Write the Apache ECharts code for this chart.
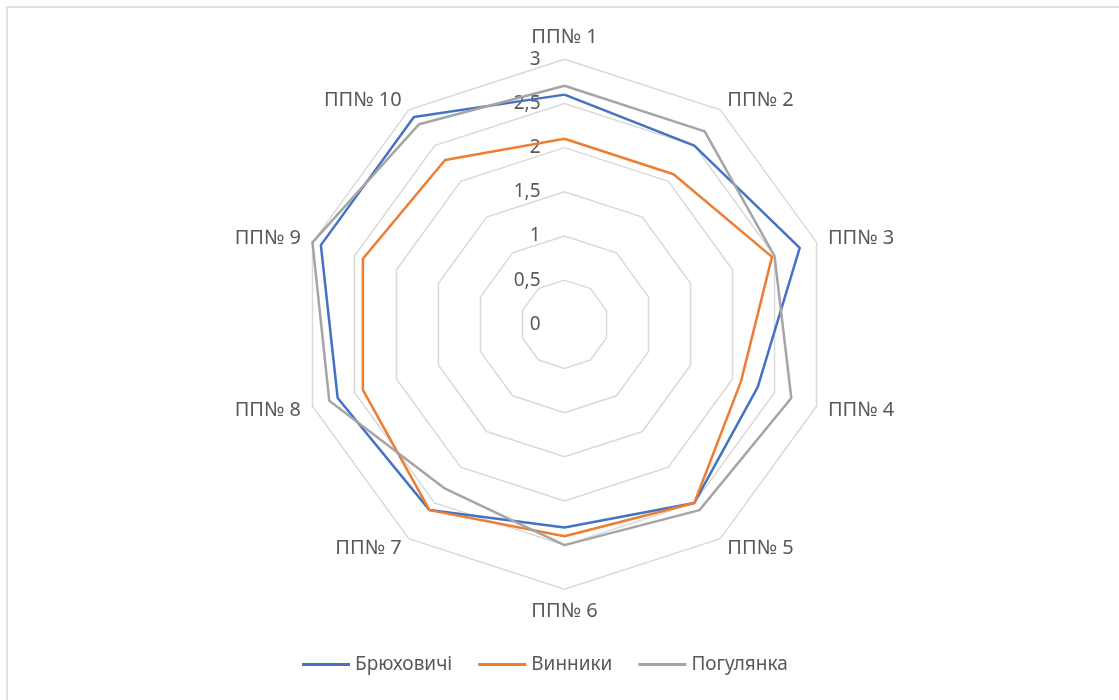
<!DOCTYPE html>
<html>
<head>
<meta charset="utf-8">
<script src="https://cdn.jsdelivr.net/npm/echarts@6/dist/echarts.min.js"></script>
<style>
  html, body { margin: 0; padding: 0; background: #fff; }
  #chart { width: 1119px; height: 700px; }
</style>
</head>
<body>
<div id="chart"></div>
<script>
// data (ПП№ 1 at the top, going clockwise)
const plots = ['ПП№ 1', 'ПП№ 2', 'ПП№ 3', 'ПП№ 4', 'ПП№ 5', 'ПП№ 6', 'ПП№ 7', 'ПП№ 8', 'ПП№ 9', 'ПП№ 10'];
const bryukhovychi = [2.6, 2.5, 2.8, 2.3, 2.5, 2.3, 2.6, 2.7, 2.9, 2.9];
const vynnyky = [2.1, 2.1, 2.47, 2.1, 2.5, 2.4, 2.6, 2.4, 2.4, 2.3];
const pohulyanka = [2.7, 2.7, 2.5, 2.7, 2.6, 2.5, 2.3, 2.8, 3.0, 2.8];
const seriesNames = ['Брюховичі', 'Винники', 'Погулянка'];
const colors = ['#4472C4', '#ED7D31', '#A5A5A5'];

// echarts lays radar axes out counter-clockwise, so flip the order after the first one
const order = plots.map((_, i) => (plots.length - i) % plots.length);
const reorder = arr => order.map(i => arr[i]);

const font = '"Noto Sans", sans-serif';

const indicator = reorder(plots).map((name, i) => ({
  name: name,
  min: 0,
  max: 3,
  axisLabel: { show: i === 0 }
}));

const chart = echarts.init(document.getElementById('chart'));

chart.setOption({
  animation: false,
  color: colors,
  textStyle: { fontFamily: font },
  graphic: [{
    type: 'rect',
    shape: { x: 7, y: 7, width: 1300, height: 900 },
    style: { fill: 'none', stroke: '#d9d9d9', lineWidth: 1.5 },
    silent: true
  }],
  legend: {
    left: 297,
    top: 650,
    icon: 'rect',
    itemWidth: 48,
    itemHeight: 3,
    itemGap: 26,
    textStyle: { color: '#595959', fontSize: 19, fontFamily: font },
    data: seriesNames
  },
  radar: {
    center: [564.5, 324.3],
    radius: 265,
    startAngle: 90,
    splitNumber: 6,
    shape: 'polygon',
    indicator: indicator,
    axisName: { color: '#595959', fontSize: 20, fontFamily: font },
    nameGap: 12,
    axisLine: { show: false },
    axisTick: { show: false },
    splitArea: { show: false },
    splitLine: { lineStyle: { color: '#d9d9d9', width: 1.5 } },
    axisLabel: {
      show: false,
      color: '#595959',
      fontSize: 19,
      fontFamily: font,
      margin: 24,
      formatter: v => String(v).replace('.', ',')
    }
  },
  series: [{
    type: 'radar',
    symbol: 'none',
    lineStyle: { width: 2.5 },
    data: [
      { name: seriesNames[0], value: reorder(bryukhovychi), lineStyle: { color: colors[0], width: 2.5 } },
      { name: seriesNames[1], value: reorder(vynnyky), lineStyle: { color: colors[1], width: 2.5 } },
      { name: seriesNames[2], value: reorder(pohulyanka), lineStyle: { color: colors[2], width: 2.5 } }
    ]
  }]
});
</script>
</body>
</html>
